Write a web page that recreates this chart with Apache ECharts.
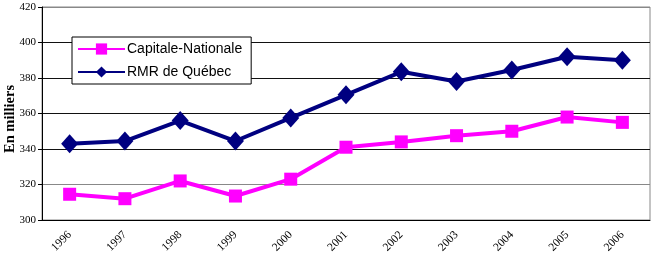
<!DOCTYPE html>
<html>
<head>
<meta charset="utf-8">
<script src="https://cdn.jsdelivr.net/npm/echarts@6/dist/echarts.min.js"></script>
<style>
  html, body {margin: 0; padding: 0; background: #fff;}
  #chart {width: 651px; height: 261px;}
</style>
</head>
<body>
<div id="chart"></div>
<script>
const years = ['1996', '1997', '1998', '1999', '2000', '2001', '2002', '2003', '2004', '2005', '2006']
const capitaleNationale = [314.5, 312, 322, 313.5, 323, 341, 344, 347.5, 350, 358, 355]
const rmrQuebec = [343, 344.5, 356, 344.5, 357.5, 370.5, 383.5, 378, 384.5, 392, 390]

const chart = echarts.init(document.getElementById('chart'))

const option = {
    animation: false,
    grid: {
        left: 42,
        right: 1,
        top: 7,
        bottom: 41,
        containLabel: false,
        outerBoundsMode: 'none',
        show: true,
        borderColor: '#888',
        borderWidth: 1
    },
    // axis title sits over the tick labels like in the original
    graphic: [{
        type: 'text',
        x: 10,
        y: 119,
        rotation: Math.PI / 2,
        z: 100,
        style: {
            text: 'En milliers',
            fontFamily: 'Liberation Serif',
            fontWeight: 'bold',
            fontSize: 14.5,
            fill: '#000',
            align: 'center',
            verticalAlign: 'middle'
        }
    }],
    legend: {
        orient: 'vertical',
        left: 72,
        top: 37,
        backgroundColor: '#fff',
        borderColor: '#000',
        borderWidth: 1,
        padding: [5, 9, 5, 5],
        itemGap: 9,
        itemWidth: 47,
        itemHeight: 14,
        textStyle: {
            fontFamily: 'Liberation Sans',
            fontSize: 14,
            lineHeight: 14,
            color: '#000',
            padding: [0, 0, 0, -3]
        },
        data: ['Capitale-Nationale', 'RMR de Québec']
    },
    xAxis: {
        type: 'category',
        data: years,
        boundaryGap: true,
        axisLine: {lineStyle: {color: '#000', width: 1}},
        axisTick: {lineStyle: {color: '#000'}, length: 4},
        axisLabel: {
            rotate: 45,
            fontFamily: 'Liberation Serif',
            fontSize: 11.5,
            color: '#000',
            margin: 13
        }
    },
    yAxis: {
        type: 'value',
        min: 300,
        max: 420,
        interval: 20,
        axisLine: {show: true, lineStyle: {color: '#000', width: 1}},
        axisTick: {show: true, length: 4, lineStyle: {color: '#000'}},
        axisLabel: {
            fontFamily: 'Liberation Serif',
            fontSize: 11,
            color: '#000',
            margin: 6
        },
        splitLine: {
            lineStyle: {
                color: ['#888', '#888', '#111', '#111', '#111', '#111', '#888'],
                width: 1
            }
        }
    },
    series: [
        {
            name: 'Capitale-Nationale',
            type: 'line',
            data: capitaleNationale,
            symbol: 'rect',
            symbolSize: 13,
            itemStyle: {color: '#FF00FF'},
            lineStyle: {color: '#FF00FF', width: 4}
        },
        {
            name: 'RMR de Québec',
            type: 'line',
            data: rmrQuebec,
            symbol: 'diamond',
            symbolSize: [17, 19],
            itemStyle: {color: '#000080'},
            lineStyle: {color: '#000080', width: 4}
        }
    ]
}

chart.setOption(option)
</script>
</body>
</html>
